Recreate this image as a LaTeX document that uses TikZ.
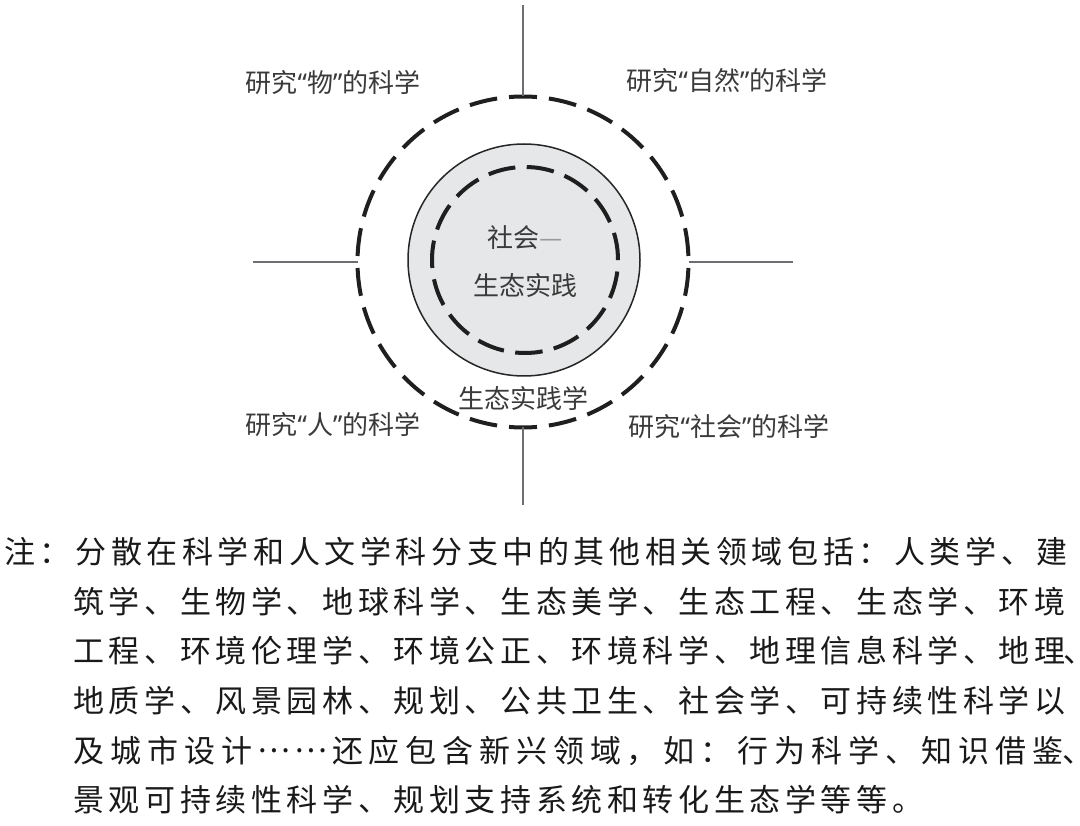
\documentclass[tikz,border=0pt]{standalone}
\usepackage{fontspec}
\usepackage{tikz}
\usetikzlibrary{positioning,calc}

\newfontfamily\cjk{Noto Sans CJK SC}
\newfontfamily\cjkhalt[RawFeature=+halt]{Noto Sans CJK SC}
\newfontfamily\qfont{Noto Sans}
\definecolor{ringfill}{HTML}{E6E7E8}
\definecolor{linegray}{HTML}{6D6E71}
\definecolor{inkgray}{HTML}{3A3A3A}

\newcommand{\quoted}[1]{{\qfont “}#1{\qfont ”}}
\newcommand{\midell}{\raisebox{0.33em}{…}}
\newlength{\cellw}
\newcommand{\noteline}[2][35.6pt]{\setlength{\cellw}{#1}\notecells#2\relax}
\def\notecells#1{\ifx#1\relax\else\makebox[\cellw]{#1}\expandafter\notecells\fi}
% half-width comma at the line end
\newcommand{\trailcomma}{\hspace*{-4pt}{\cjkhalt 、}}

\begin{document}
\begin{tikzpicture}[
    x=1pt, y=-1pt,
    every node/.style={inner sep=0pt, outer sep=0pt},
    ring/.style={circle, draw=black!88, line width=4pt},
    cross/.style={draw=linegray, line width=1.4pt},
    areatext/.style={font=\cjk\fontsize{26}{30}\selectfont, text=inkgray},
    coretext/.style={font=\cjk\fontsize{26}{30}\selectfont, text=inkgray},
    notetext/.style={font=\cjk\fontsize{31}{36}\selectfont, anchor=west, text=black!90}
]
\useasboundingbox (0,0) rectangle (1080,826);

% rings
\node[ring, dash pattern=on 28pt off 12pt, dash phase=34pt, minimum size=331pt] (outer) at (523,262) {};
\node[circle, draw=black!85, fill=ringfill, line width=1.5pt, minimum size=232pt] (core) at (524,260) {};
\node[ring, dash pattern=on 27.5pt off 11.45pt, minimum size=186pt] (inner) at (525,260) {};

% axes
\coordinate (topend) at (523,5);
\coordinate (bottomend) at (523,505);
\coordinate (leftend) at (253,262);
\coordinate (rightend) at (793,262);
\draw[cross] (outer.north) -- (topend);
\draw[cross] (outer.south) -- (bottomend);
\draw[cross] (outer.west) -- (leftend);
\draw[cross] (outer.east) -- (rightend);

% quadrants
\node[areatext] (matter) at (333,83) {研究\quoted{物}的科学};
\node[areatext] (nature) at (727,81) {研究\quoted{自然}的科学};
\node[areatext] (human) at (333,425) {研究\quoted{人}的科学};
\node[areatext] (society) at (729,427) {研究\quoted{社会}的科学};

% centre
\node[coretext] (practice) at (525,238) {社会\textcolor{linegray!70}{—}};
\node[coretext] (practiceb) at (525,285) {生态实践};
\node[coretext] (ringname) at (523,398) {生态实践学};

% note
\node[notetext] (note1) at (2,552) {\noteline{注：分散在科学和人文学科分支中的其他相关领域包括：人类学、建}};
\node[notetext] (note2) at (71,602) {\noteline{筑学、生物学、地球科学、生态美学、生态工程、生态学、环境}};
\node[notetext] (note3) at (71,651) {\noteline{工程、环境伦理学、环境公正、环境科学、地理信息科学、地理}\trailcomma};
\node[notetext] (note4) at (71,701) {\noteline{地质学、风景园林、规划、公共卫生、社会学、可持续性科学以}};
\node[notetext] (note5) at (71,751) {\noteline[36.87pt]{及城市设计\midell\midell 还应包含新兴领域，如：行为科学、知识借鉴}\trailcomma};
\node[notetext] (note6) at (71,800) {\noteline{景观可持续性科学、规划支持系统和转化生态学等等。}};

\end{tikzpicture}
\end{document}
